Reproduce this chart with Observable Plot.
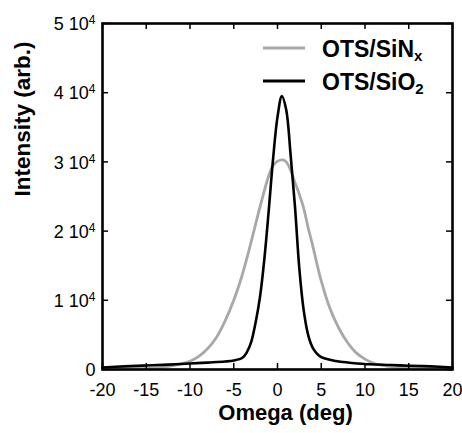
<!DOCTYPE html>
<html><head><meta charset="utf-8">
<script src="https://cdn.jsdelivr.net/npm/d3@7"></script>
<script src="https://cdn.jsdelivr.net/npm/@observablehq/plot@0.6"></script>
<style>
body{margin:0;background:#fff}
#chart{position:relative;width:462px;height:433px}
svg{font-family:"Liberation Sans",Arial,sans-serif}
</style>
</head><body><div id="chart"></div>
<script>
const xTicks = [-20, -15, -10, -5, 0, 5, 10, 15, 20];
const yTicks = [0, 10000, 20000, 30000, 40000, 50000];
const yTickMantissa = ["0", "1 10", "2 10", "3 10", "4 10", "5 10"];
const yTickExponent = ["", "4", "4", "4", "4", "4"];

const omegaSiO2 = [-20, -17.5, -15, -12.5, -10, -8, -6, -5, -4, -3.5, -3, -2.5, -2, -1.5, -1, -0.5, 0, 0.5, 1, 1.5, 2, 2.5, 3, 3.5, 4, 4.5, 5, 6, 7, 8.5, 10.5, 13, 15, 17.5, 20];
const intensitySiO2 = [300, 450, 570, 700, 860, 1000, 1150, 1300, 1700, 2500, 4000, 6800, 10500, 16000, 23000, 30500, 36500, 39500, 37500, 31000, 23500, 14500, 8500, 5000, 3200, 2300, 1800, 1400, 1150, 950, 750, 650, 550, 450, 300];

const omegaSiNx = [-20, -17.5, -15, -13, -11, -10, -9, -8, -7, -6, -5, -4, -3, -2, -1, -0.5, 0, 0.6, 1, 1.5, 2, 2.5, 3, 3.5, 4, 5, 6, 7, 8, 9, 10, 11, 12.5, 15, 17.5, 20];
const intensitySiNx = [50, 80, 150, 350, 800, 1200, 1900, 3000, 4600, 7000, 10000, 13800, 18500, 23500, 28000, 29500, 30100, 30300, 30000, 28800, 27000, 25300, 23300, 20500, 18000, 12800, 8800, 6000, 3900, 2400, 1500, 900, 500, 200, 100, 50];

const seriesNames = ["OTS/SiN", "OTS/SiO"];
const seriesSubs = ["x", "2"];
const seriesColors = ["#a8a8a8", "#000000"];

const sio2 = omegaSiO2.map((x, i) => ({x, y: intensitySiO2[i]}));
const sinx = omegaSiNx.map((x, i) => ({x, y: intensitySiNx[i]}));

const W = 462, H = 433, mL = 102, mR = 10, mT = 23, mB = 64;
const fw = W - mL - mR, fh = H - mT - mB, tk = 6;

const svg = Plot.plot({
  width: W, height: H,
  marginLeft: mL, marginRight: mR, marginTop: mT, marginBottom: mB,
  style: {fontSize: "18px", fontFamily: "Liberation Sans, Arial, sans-serif", background: "white", color: "black"},
  x: {domain: [-20, 20]},
  y: {domain: [0, 50000]},
  marks: [
    Plot.line(sinx, {x: "x", y: "y", stroke: seriesColors[0], strokeWidth: 2.8, curve: "catmull-rom"}),
    Plot.line(sio2, {x: "x", y: "y", stroke: seriesColors[1], strokeWidth: 2.6, curve: "catmull-rom"}),
    Plot.tickX(xTicks, {x: d => d, insetTop: fh - tk, stroke: "black", strokeWidth: 1.5}),
    Plot.tickX(xTicks, {x: d => d, insetBottom: fh - tk, stroke: "black", strokeWidth: 1.5}),
    Plot.tickY(yTicks, {y: d => d, insetRight: fw - tk, stroke: "black", strokeWidth: 1.5}),
    Plot.tickY(yTicks, {y: d => d, insetLeft: fw - tk, stroke: "black", strokeWidth: 1.5}),
    Plot.frame({stroke: "black", strokeWidth: 2.6}),
    Plot.axisX({ticks: xTicks, tickSize: 0, tickPadding: 14, tickFormat: d => String(d), label: null}),
    Plot.axisY({ticks: yTicks, tickSize: 0, tickPadding: 7, dy: 1, tickFormat: (d, i) => yTickMantissa[yTicks.indexOf(d)], label: null}),
    Plot.text(["Omega (deg)"], {frameAnchor: "bottom", dy: 50, dx: 8, fontSize: 22, fontWeight: "bold"}),
    Plot.text(["Intensity (arb.)"], {frameAnchor: "left", dx: -80, rotate: -90, fontSize: 22.5, fontWeight: "bold"})
  ]
});

// superscript exponents on y tick labels
d3.select(svg).selectAll('g[aria-label="y-axis tick label"] text').each(function() {
  const t = d3.select(this);
  const idx = yTickMantissa.indexOf(t.text());
  if (idx > 0 && yTickExponent[idx]) {
    t.append("tspan").attr("dy", "-0.5em").attr("font-size", "12px").text(yTickExponent[idx]);
  }
});

// legend
const lg = d3.select(svg).append("g").attr("aria-label", "legend").attr("text-anchor", "start");
const legendRows = [48, 81];
seriesNames.forEach((name, i) => {
  const y = legendRows[i];
  lg.append("line").attr("x1", 263).attr("x2", 305).attr("y1", y).attr("y2", y)
    .attr("stroke", seriesColors[i]).attr("stroke-width", 3);
  const t = lg.append("text").attr("x", 322).attr("y", y + 8.5).attr("text-anchor", "start")
    .attr("font-size", 23).attr("font-weight", "bold").attr("fill", "black").text(name);
  t.append("tspan").attr("dy", "0.3em").attr("font-size", 15).text(seriesSubs[i]);
});

document.getElementById("chart").appendChild(svg);
</script>
</body></html>
